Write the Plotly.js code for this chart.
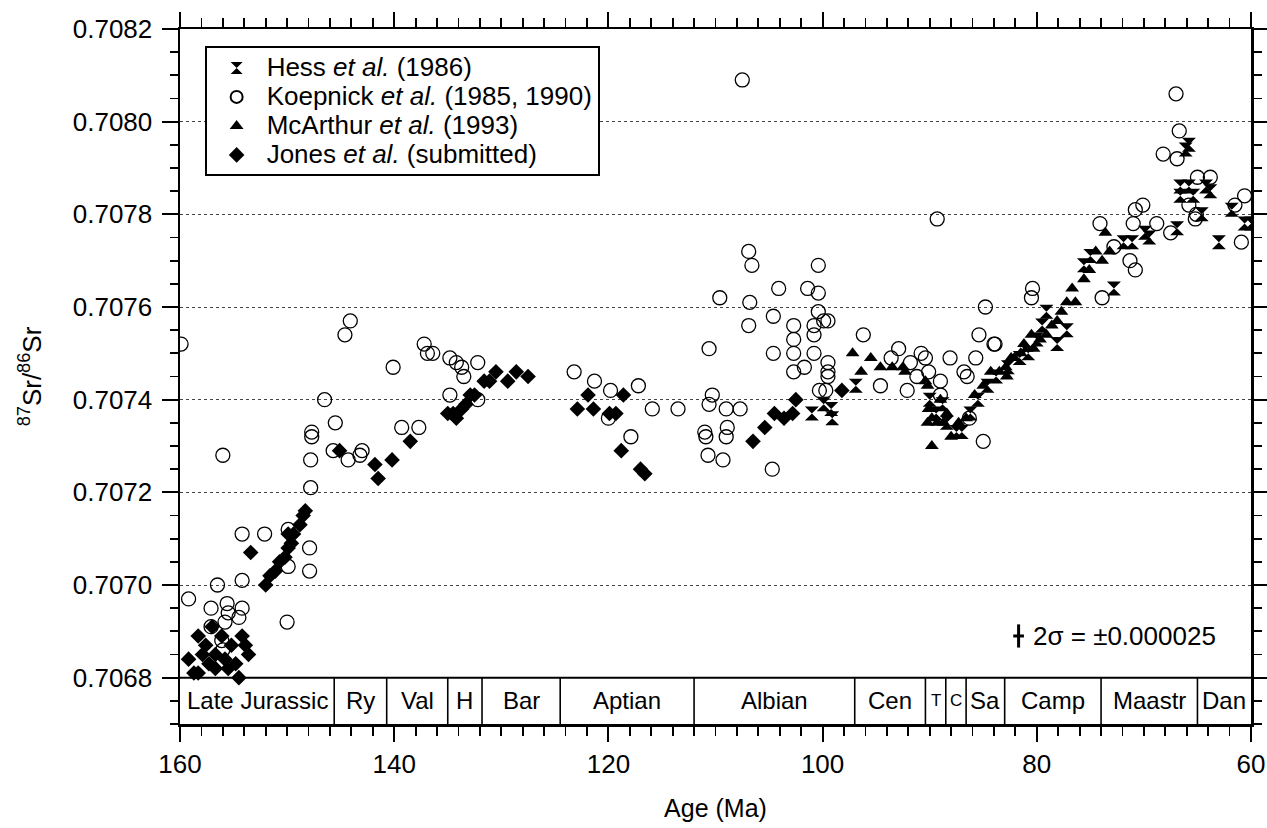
<!DOCTYPE html>
<html>
<head>
<meta charset="utf-8">
<script src="https://cdn.plot.ly/plotly-3.0.1.min.js"></script>
<style>html,body{margin:0;padding:0;background:#fff;}#chart{width:1267px;height:828px;}</style>
</head>
<body>
<div id="chart"></div>
<script>
// ---- Data (ages in Ma, 87Sr/86Sr) ----
const hessAge = [101.0, 99.9, 99.2, 99.1, 96.9,
  90.0, 89.4, 88.8, 88.4, 87.5, 87.0, 86.2, 85.5, 84.6, 83.8, 82.7, 81.6, 80.8, 80.0, 79.5,
  79.1, 78.1, 77.2, 75.6, 75.0, 72.8, 71.9, 71.1, 69.9, 69.5, 66.9, 63.0,
  66.6, 65.8, 66.6, 65.4, 64.2, 63.8, 64.6, 65.8, 66.1, 61.8, 60.6, 60.0];
const hessSr = [0.70737, 0.70739, 0.70738, 0.70736, 0.70743,
  0.70740, 0.70737, 0.70739, 0.70735, 0.70733, 0.70733, 0.70737, 0.70740, 0.70743, 0.70745, 0.70747, 0.70749, 0.70750, 0.70753, 0.70756,
  0.70759, 0.70752, 0.70755, 0.70769, 0.70771, 0.70764, 0.70774, 0.70774, 0.70776, 0.70775, 0.70777, 0.70774,
  0.70786, 0.70786, 0.70784, 0.70784, 0.70786, 0.70785, 0.70780, 0.70795, 0.70794, 0.70781, 0.70778, 0.70778];

const koepAge = [159.9, 159.2, 157.1, 156.5, 155.6, 155.5, 154.2, 154.2, 154.5, 155.8, 157.1, 156.1, 156.0,
  156.0, 154.2, 152.1, 149.9, 147.9, 147.9, 149.9, 150.0, 147.8, 147.8, 147.7, 147.7, 146.5, 145.5, 145.7,
  144.3, 143.0, 143.2, 144.1, 144.6, 140.1, 139.3, 137.7, 137.2, 136.9, 136.4, 134.8, 134.2, 133.7, 133.5,
  132.2, 134.8, 132.2,
  123.2, 121.3, 119.8, 117.2, 120.0, 117.9, 115.9, 113.5,
  107.5, 109.6, 110.6, 110.3, 110.6, 111.0, 110.9, 109.0, 108.9, 109.0, 107.7, 110.7, 109.3, 104.7,
  106.9, 106.6, 106.8, 106.9, 104.1, 104.6, 104.6, 100.4, 101.4, 100.4, 102.7, 100.4, 99.9, 99.5,
  102.7, 102.7, 100.8, 100.8, 100.8, 101.7, 102.7, 99.5, 99.5, 99.5, 100.3, 99.7,
  96.2, 92.9, 93.6, 90.8, 90.4, 91.8, 88.1, 94.6, 92.1, 91.2, 90.1, 89.0, 89.3, 84.8, 85.4, 84.0, 83.9,
  86.8, 86.5, 85.7, 86.3, 89.0, 85.0, 80.4, 80.5,
  67.0, 66.7, 68.2, 66.9, 65.0, 63.8, 65.8, 65.1, 65.2, 60.6, 60.9, 61.5, 70.1, 70.8, 71.0, 68.8, 67.5,
  74.1, 72.8, 71.3, 70.8, 73.9];
const koepSr = [0.70752, 0.70697, 0.70695, 0.70700, 0.70696, 0.70694, 0.70701, 0.70695, 0.70693, 0.70692, 0.70691, 0.70688, 0.70686,
  0.70728, 0.70711, 0.70711, 0.70712, 0.70708, 0.70703, 0.70704, 0.70692, 0.70721, 0.70727, 0.70733, 0.70732, 0.70740, 0.70735, 0.70729,
  0.70727, 0.70729, 0.70728, 0.70757, 0.70754, 0.70747, 0.70734, 0.70734, 0.70752, 0.70750, 0.70750, 0.70749, 0.70748, 0.70747, 0.70745,
  0.70748, 0.70741, 0.70740,
  0.70746, 0.70744, 0.70742, 0.70743, 0.70736, 0.70732, 0.70738, 0.70738,
  0.70809, 0.70762, 0.70751, 0.70741, 0.70739, 0.70733, 0.70732, 0.70738, 0.70734, 0.70732, 0.70738, 0.70728, 0.70727, 0.70725,
  0.70772, 0.70769, 0.70761, 0.70756, 0.70764, 0.70758, 0.70750, 0.70769, 0.70764, 0.70763, 0.70756, 0.70759, 0.70757, 0.70757,
  0.70753, 0.70750, 0.70756, 0.70754, 0.70750, 0.70747, 0.70746, 0.70748, 0.70746, 0.70745, 0.70742, 0.70742,
  0.70754, 0.70751, 0.70749, 0.70750, 0.70749, 0.70748, 0.70749, 0.70743, 0.70742, 0.70745, 0.70746, 0.70744, 0.70779, 0.70760, 0.70754, 0.70752, 0.70752,
  0.70746, 0.70745, 0.70749, 0.70736, 0.70741, 0.70731, 0.70764, 0.70762,
  0.70806, 0.70798, 0.70793, 0.70792, 0.70788, 0.70788, 0.70782, 0.70780, 0.70779, 0.70784, 0.70774, 0.70782, 0.70782, 0.70781, 0.70778, 0.70778, 0.70776,
  0.70778, 0.70773, 0.70770, 0.70768, 0.70762];

const mcaAge = [97.2, 96.4, 95.5, 94.6, 93.5, 92.5, 92.3, 90.4, 90.2, 90.1, 89.8, 89.3, 89.0, 88.4, 88.7, 90.2, 89.8,
  88.0, 87.3, 86.6, 85.8, 85.0, 84.3, 83.5, 82.4, 81.2, 80.5,
  82.9, 82.8, 82.1, 81.5, 80.9, 80.3, 79.7, 79.1, 78.6, 78.1, 77.7, 77.2, 76.4, 76.7, 75.6, 75.1, 74.5, 73.9, 73.2, 73.6];
const mcaSr = [0.70750, 0.70746, 0.70749, 0.70747, 0.70747, 0.70747, 0.70746, 0.70744, 0.70743, 0.70738, 0.70736, 0.70735, 0.70740, 0.70737, 0.70735, 0.70735, 0.70730,
  0.70732, 0.70735, 0.70736, 0.70741, 0.70743, 0.70746, 0.70746, 0.70749, 0.70752, 0.70754,
  0.70747, 0.70745, 0.70749, 0.70750, 0.70751, 0.70751, 0.70753, 0.70754, 0.70756, 0.70757, 0.70759, 0.70761, 0.70761, 0.70764, 0.70766, 0.70768, 0.70772, 0.70770, 0.70772, 0.70776];

const jonesAge = [159.2, 158.3, 158.3, 157.6, 157.3, 156.7, 156.7, 156.1, 155.8, 155.2, 154.8, 154.5, 154.2, 153.9, 153.6, 157.0, 158.7, 155.5, 157.9,
  153.4, 152.0, 151.6, 151.1, 150.7, 150.2, 149.9, 149.6, 149.9, 149.4, 148.8, 148.5, 148.3,
  145.1, 141.8, 141.5, 140.2, 138.5, 135.0, 134.5, 134.2, 133.7, 133.3, 132.9, 132.5, 131.6, 131.1, 130.5, 129.4, 128.6, 127.5,
  122.9, 121.9, 121.4, 119.9, 119.3, 118.6, 118.8, 117.0, 116.6,
  106.5, 105.4, 104.5, 103.6, 102.8, 102.5, 98.2];
const jonesSr = [0.70684, 0.70689, 0.70681, 0.70687, 0.70683, 0.70682, 0.70685, 0.70689, 0.70684, 0.70687, 0.70683, 0.70680, 0.70689, 0.70687, 0.70685, 0.70691, 0.70681, 0.70682, 0.70685,
  0.70707, 0.70700, 0.70702, 0.70703, 0.70705, 0.70706, 0.70708, 0.70709, 0.70711, 0.70711, 0.70713, 0.70715, 0.70716,
  0.70729, 0.70726, 0.70723, 0.70727, 0.70731, 0.70737, 0.70737, 0.70736, 0.70738, 0.70739, 0.70741, 0.70741, 0.70744, 0.70744, 0.70746, 0.70744, 0.70746, 0.70745,
  0.70738, 0.70741, 0.70738, 0.70737, 0.70737, 0.70741, 0.70729, 0.70725, 0.70724,
  0.70731, 0.70734, 0.70737, 0.70736, 0.70737, 0.70740, 0.70742];

const seriesAuthors = ['Hess', 'Koepnick', 'McArthur', 'Jones'];
const seriesYears = ['(1986)', '(1985, 1990)', '(1993)', '(submitted)'];

const stageNames = ['Late Jurassic', 'Ry', 'Val', 'H', 'Bar', 'Aptian', 'Albian', 'Cen', 'T', 'C', 'Sa', 'Camp', 'Maastr', 'Dan'];
const stageBounds = [160, 145.6, 140.7, 135.0, 131.8, 124.5, 112.0, 97.0, 90.4, 88.5, 86.6, 83.0, 74.0, 65.0, 60];

const errAge = [81.7];
const errSr = [0.70689];
const errHalf = [0.000025];
const errLabel = '2σ = ±0.000025';

const xRange = [160, 60];
const yRange = [0.7067, 0.7082];
const stageTop = 0.7068;

// ---- Styles ----
const FONT = 'Liberation Sans, Arial, Helvetica, sans-serif';
const legName = i => '<span style="font-size:26px">' + seriesAuthors[i] + ' </span>' +
  '<span style="font-size:26px;font-style:italic">et al.</span>' +
  '<span style="font-size:26px"> ' + seriesYears[i] + '</span>';

const traces = [
  {x: hessAge, y: hessSr, name: legName(0), mode: 'markers', type: 'scatter',
   marker: {symbol: 'hourglass', size: 14, color: '#000', line: {width: 0}}},
  {x: koepAge, y: koepSr, name: legName(1), mode: 'markers', type: 'scatter',
   marker: {symbol: 'circle-open', size: 14, color: '#000', line: {width: 1.3, color: '#000'}}},
  {x: mcaAge, y: mcaSr, name: legName(2), mode: 'markers', type: 'scatter',
   marker: {symbol: 'triangle-up', size: 12, color: '#000', line: {width: 0}}},
  {x: jonesAge, y: jonesSr, name: legName(3), mode: 'markers', type: 'scatter',
   marker: {symbol: 'diamond', size: 12, color: '#000', line: {width: 0}}},
  {x: errAge, y: errSr, mode: 'markers', type: 'scatter', showlegend: false, hoverinfo: 'skip',
   marker: {size: 1, color: 'rgba(0,0,0,0)'},
   error_y: {type: 'data', array: errHalf, visible: true, width: 0, thickness: 3, color: '#000'},
   error_x: {type: 'data', array: [0.5], visible: true, width: 0, thickness: 3, color: '#000'}}
];

const shapes = [];
const annotations = [];
shapes.push({type: 'line', xref: 'x', yref: 'y', x0: stageBounds[0], x1: stageBounds[stageBounds.length - 1], y0: stageTop, y1: stageTop,
  line: {color: '#000', width: 2}});
for (let i = 0; i < stageNames.length; i++) {
  const a = stageBounds[i], b = stageBounds[i + 1];
  if (i > 0) {
    shapes.push({type: 'line', xref: 'x', yref: 'y', x0: a, x1: a, y0: yRange[0], y1: stageTop, line: {color: '#000', width: 1.6}});
  }
  const narrow = (a - b) < 2.2;
  annotations.push({x: (a + b) / 2, y: (yRange[0] + stageTop) / 2, xref: 'x', yref: 'y', text: stageNames[i], showarrow: false,
    font: {family: FONT, size: narrow ? 17 : 24, color: '#000'}, xanchor: 'center', yanchor: 'middle'});
}
annotations.push({x: errAge[0] - 1.2, y: errSr[0], xref: 'x', yref: 'y', text: errLabel, showarrow: false,
  xanchor: 'left', yanchor: 'middle', font: {family: FONT, size: 26, color: '#000'}});

const layout = {
  width: 1267, height: 828,
  margin: {l: 180, r: 16, t: 29, b: 104},
  paper_bgcolor: '#fff', plot_bgcolor: '#fff',
  font: {family: FONT, size: 24, color: '#000'},
  showlegend: true,
  legend: {x: 0.023, y: 0.975, xanchor: 'left', yanchor: 'top', bgcolor: '#fff', bordercolor: '#000', borderwidth: 2,
    font: {family: FONT, size: 20, color: '#000'}, tracegroupgap: 0, itemsizing: 'constant', itemwidth: 50},
  xaxis: {
    range: xRange, autorange: false, showgrid: false, zeroline: false,
    showline: true, linecolor: '#000', linewidth: 2.5, mirror: 'allticks',
    ticks: 'outside', ticklen: 15, tickwidth: 2, tickcolor: '#000', dtick: 20, tick0: 60,
    ticklabelstandoff: 0,
    minor: {dtick: 2, ticks: 'outside', ticklen: 9, tickwidth: 1.8, tickcolor: '#000', showgrid: false},
    tickfont: {family: FONT, size: 26, color: '#000'},
    title: {text: 'Age (Ma)', font: {family: FONT, size: 25, color: '#000'}, standoff: 22}
  },
  yaxis: {
    range: yRange, autorange: false, zeroline: false,
    showline: true, linecolor: '#000', linewidth: 2.5, mirror: 'allticks',
    ticks: 'outside', ticklen: 16, tickwidth: 2, tickcolor: '#000', dtick: 0.0002, tick0: 0.7068,
    tickformat: '.4f', ticklabelstandoff: 4,
    showgrid: true, gridcolor: '#444', gridwidth: 1, griddash: 'dot',
    minor: {dtick: 0.00005, ticks: 'outside', ticklen: 8, tickwidth: 1.8, tickcolor: '#000', showgrid: false},
    tickfont: {family: FONT, size: 26, color: '#000'},
    title: {text: '<sup>87</sup>Sr/<sup>86</sup>Sr', font: {family: FONT, size: 26, color: '#000'}, standoff: 24}
  },
  shapes: shapes,
  annotations: annotations
};

Plotly.newPlot('chart', traces, layout, {displayModeBar: false, staticPlot: true});
</script>
</body>
</html>
